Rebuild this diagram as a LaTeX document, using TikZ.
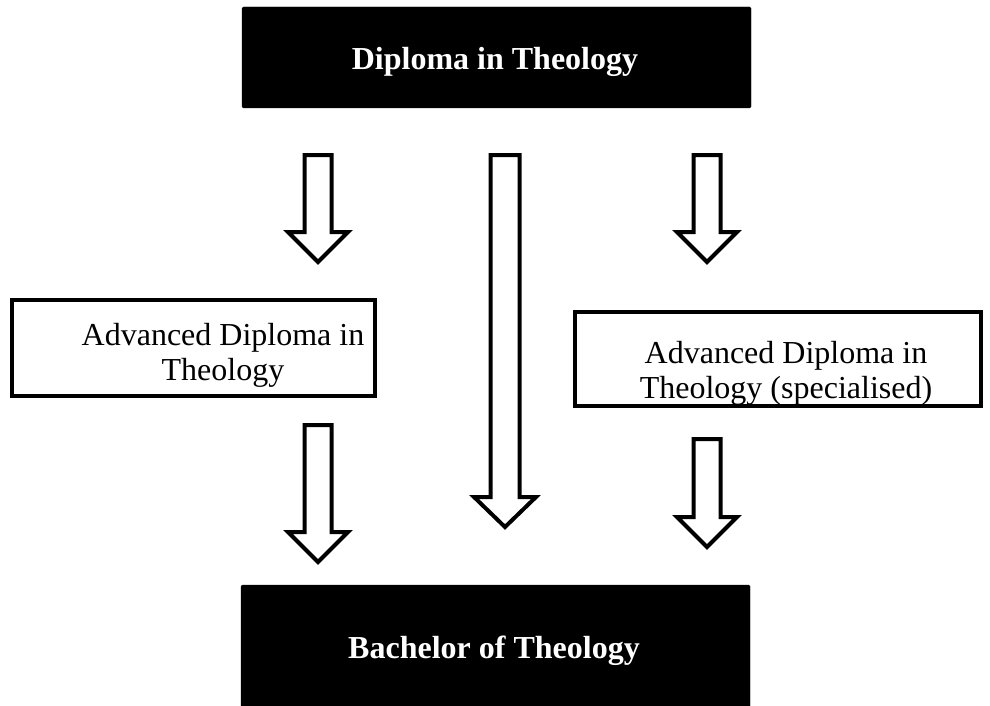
\documentclass[tikz,border=0pt]{standalone}
\usepackage{fontspec}
\setmainfont{Liberation Serif}
\begin{document}
\begin{tikzpicture}[x=1pt,y=-1pt,
  arrowshape/.style={draw=black, line width=4pt, fill=white, line join=miter},
  darkbox/.style={draw=black, fill=black, rounded corners=1.5pt, inner sep=0pt},
  lightbox/.style={draw=black, line width=4pt, fill=white, inner sep=0pt},
  boxtext/.style={font=\fontsize{32}{35}\selectfont, align=center, inner sep=0pt},
  titletext/.style={font=\fontsize{32}{35}\selectfont\bfseries, text=white, inner sep=0pt},
  pics/blockdown/.style n args={5}{code={
    \draw[arrowshape] (-#4,#1) -- (#4,#1) -- (#4,#2) -- (#5,#2) -- (0,#3)
      -- (-#5,#2) -- (-#4,#2) -- cycle;}}]
\useasboundingbox (0,0) rectangle (990,706);
\fill[white] (0,0) rectangle (990,706);

% boxes
\node[darkbox, minimum width=509pt, minimum height=101pt] (topbox) at (496.5,57.5) {};
\node[darkbox, minimum width=509pt, minimum height=136pt] (botbox) at (495.5,653) {};
\node[lightbox, minimum width=363pt, minimum height=96pt] (leftbox) at (193.5,348) {};
\node[lightbox, minimum width=406pt, minimum height=94pt] (rightbox) at (778,359) {};

% texts
\node[titletext, anchor=base] (toptext) at (495,70) {Diploma in Theology};
\node[titletext, anchor=base] (bottext) at (494,658) {Bachelor of Theology};
\node[boxtext] (lefttext) at (223,355) {Advanced Diploma in\\Theology};
\node[boxtext] (righttext) at (786,373) {Advanced Diploma in\\Theology (specialised)};

% block arrows
\pic at (318,0) {blockdown={155}{232}{262}{13.5}{30}};
\pic at (505,0) {blockdown={155}{497}{527}{14.5}{31}};
\pic at (707,0) {blockdown={155}{232}{262}{13.5}{30}};
\pic at (318,0) {blockdown={425}{532}{562}{13.5}{30}};
\pic at (707,0) {blockdown={439}{517}{547}{13.5}{30}};
\end{tikzpicture}
\end{document}
